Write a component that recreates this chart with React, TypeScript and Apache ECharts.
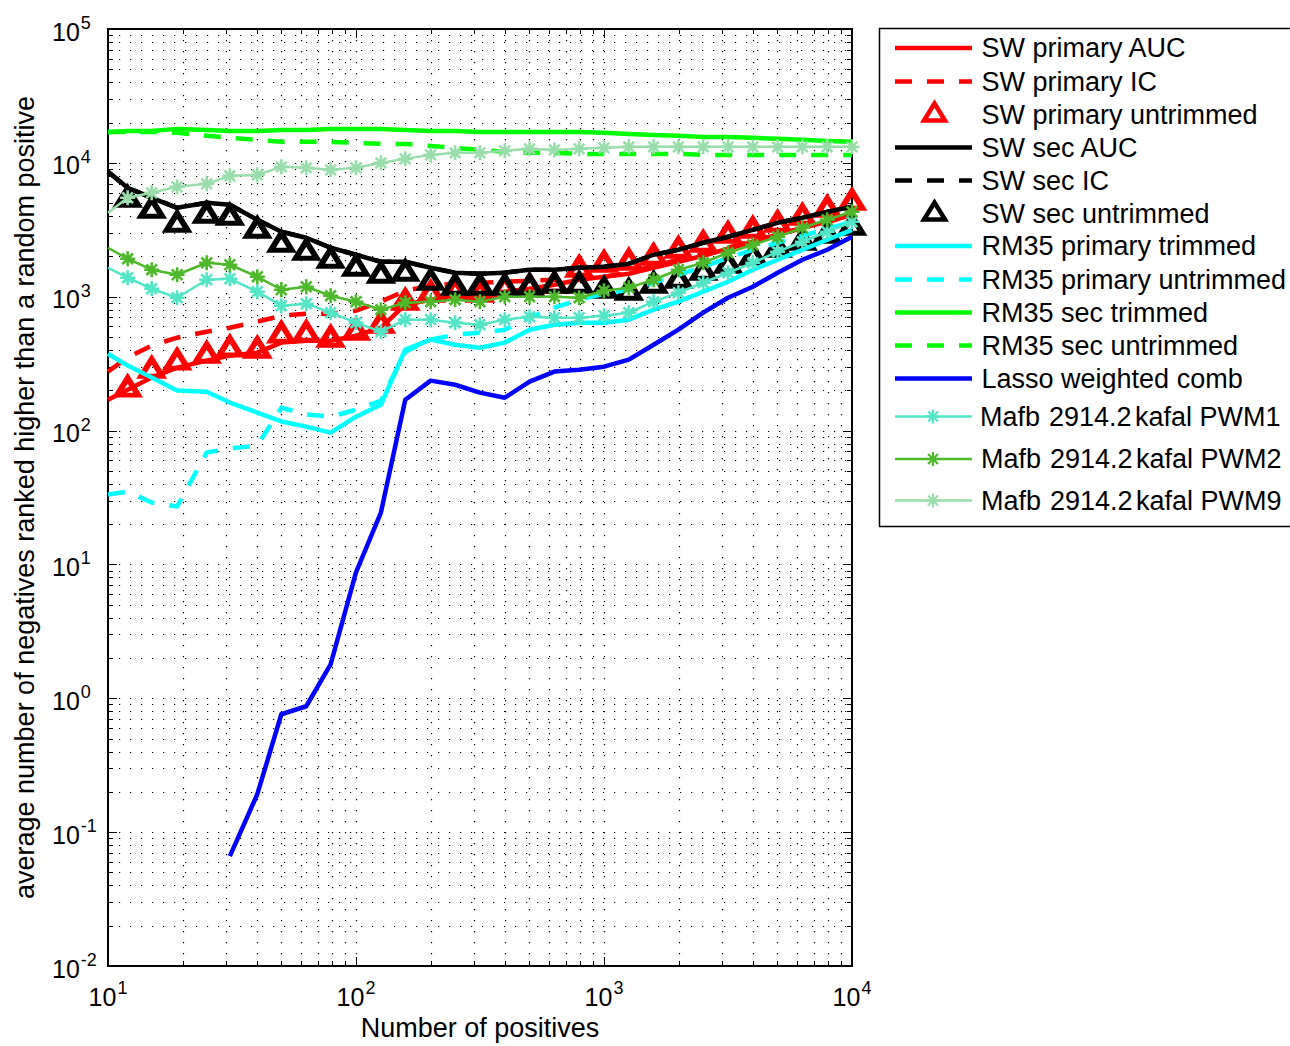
import React, { useEffect, useRef } from "react";
import * as echarts from "echarts";

const FONT = '"Liberation Sans", Arial, Helvetica, sans-serif';

// x: number of positives
const xPositives = [10, 12, 15, 19, 25, 31, 40, 50, 63, 79, 100, 126, 158, 200, 251, 316, 398, 501, 631, 794, 1000, 1259, 1585, 1995, 2512, 3162, 3981, 5012, 6310, 7943, 10000];

const swPrimaryAUC = [170, 202, 249, 295, 333, 363, 382, 454, 469, 469, 512, 587, 872, 950, 983, 1017, 1090, 1147, 1229, 1339, 1410, 1485, 1646, 1825, 2023, 2281, 2573, 2902, 3272, 3628, 4093];
const swPrimaryIC = [276, 351, 431, 494, 548, 587, 651, 721, 747, 747, 786, 918, 1109, 1208, 1250, 1272, 1294, 1316, 1339, 1362, 1410, 1511, 1704, 1889, 2094, 2321, 2618, 2902, 3272, 3628, 4022];
const swPrimaryUntrimmed = [null, 213, 295, 339, 382, 424, 416, 539, 548, 503, 567, 640, 950, 1090, 1128, 1090, 1187, 1229, 1272, 1675, 1825, 1889, 2058, 2321, 2573, 3003, 3272, 3628, 4093, 4694, 5293];
const swSecAUC = [8565, 6507, 5480, 4616, 5030, 4860, 3754, 3056, 2756, 2321, 2058, 1825, 1825, 1646, 1511, 1485, 1511, 1591, 1591, 1646, 1675, 1763, 2058, 2242, 2529, 2804, 3162, 3566, 3886, 4308, 4694];
const swSecIC = [8565, 6507, 5480, 4616, 5030, 4860, 3754, 3056, 2756, 2321, 2058, 1825, 1825, 1646, 1511, 1485, 1511, 1591, 1591, 1646, 1675, 1763, 2058, 2242, 2529, 2804, 3162, 3566, 3886, 4308, 4694];
const swSecUntrimmed = [null, 5576, 4616, 3628, 4235, 4093, 3272, 2573, 2242, 1954, 1704, 1511, 1563, 1339, 1229, 1229, 1229, 1229, 1272, 1272, 1168, 1128, 1272, 1386, 1591, 1793, 2058, 2361, 2663, 3003, 3446];
const rm35PrimaryTrimmed = [375, 306, 249, 199, 195, 162, 136, 117, 107, 96.6, 127, 156, 402, 478, 438, 416, 454, 567, 618, 640, 640, 674, 800, 918, 1090, 1294, 1591, 1889, 2242, 2663, 3162];
const rm35PrimaryUntrimmed = [33.3, 35, 29, 27.1, 68.5, 73.4, 77.3, 148, 132, 127, 143, 167, 389, 478, 520, 539, 567, 697, 828, 950, 1053, 1128, 1272, 1459, 1675, 1954, 2242, 2529, 2852, 3217, 3628];
const rm35SecTrimmed = [17030, 17330, 17330, 17940, 17630, 17330, 17330, 17630, 17630, 17940, 17940, 17940, 17630, 17330, 17330, 17030, 17030, 17030, 17030, 17030, 16750, 16460, 16180, 15910, 15630, 15630, 15370, 15110, 14850, 14590, 14350];
const rm35SecUntrimmed = [17030, 17030, 17030, 16750, 15910, 15370, 14850, 14350, 14350, 14350, 14100, 13860, 13860, 13390, 12940, 12500, 12080, 11875, 11875, 11670, 11670, 11670, 11670, 11670, 11470, 11470, 11470, 11470, 11470, 11470, 11470];
const lassoWeightedComb = [null, null, null, null, null, 0.0662, 0.192, 0.76, 0.872, 1.79, 8.72, 24.4, 170, 236, 220, 192, 176, 232, 276, 285, 300, 339, 438, 567, 760, 983, 1187, 1511, 1889, 2242, 2804];
const mafbPWM1 = [1646, 1386, 1147, 983, 1339, 1362, 1090, 857, 887, 760, 640, 548, 674, 674, 640, 618, 674, 709, 697, 697, 721, 760, 918, 1071, 1272, 1511, 1793, 2167, 2573, 3056, 3628];
const mafbPWM2 = [2321, 1921, 1591, 1459, 1793, 1733, 1410, 1128, 1187, 1017, 918, 800, 902, 918, 950, 918, 1000, 1000, 1000, 983, 1109, 1168, 1339, 1591, 1793, 2130, 2444, 2804, 3272, 3754, 4308];
const mafbPWM9 = [4235, 5480, 5973, 6620, 6970, 8000, 8137, 9336, 9177, 8867, 9177, 10000, 10710, 11470, 11875, 11875, 12290, 12720, 12500, 12720, 12940, 13165, 13165, 13165, 13165, 13165, 13165, 13165, 13165, 13165, 13165];

const xTicks = [10, 100, 1000, 10000];
const yTicks = [0.01, 0.1, 1, 10, 100, 1000, 10000, 100000];

type Spec = {
  name: string;
  ys: (number | null)[];
  color: string;
  width: number;
  dash?: number[];
  marker?: "triangle" | "asterisk";
  lineless?: boolean;
  textParts?: [string, number][];
};

const SPECS: Spec[] = [
  { name: "SW primary AUC", ys: swPrimaryAUC, color: "#FF0000", width: 4.5 },
  { name: "SW primary IC", ys: swPrimaryIC, color: "#FF0000", width: 4.5, dash: [17, 15] },
  { name: "SW primary untrimmed", ys: swPrimaryUntrimmed, color: "#FF0000", width: 0, marker: "triangle", lineless: true },
  { name: "SW sec AUC", ys: swSecAUC, color: "#000000", width: 4.5 },
  { name: "SW sec IC", ys: swSecIC, color: "#000000", width: 4.5, dash: [17, 15] },
  { name: "SW sec untrimmed", ys: swSecUntrimmed, color: "#000000", width: 0, marker: "triangle", lineless: true },
  { name: "RM35 primary trimmed", ys: rm35PrimaryTrimmed, color: "#00FFFF", width: 4.5 },
  { name: "RM35 primary untrimmed", ys: rm35PrimaryUntrimmed, color: "#00FFFF", width: 4.5, dash: [17, 15] },
  { name: "RM35 sec trimmed", ys: rm35SecTrimmed, color: "#00FF00", width: 4.5 },
  { name: "RM35 sec untrimmed", ys: rm35SecUntrimmed, color: "#00FF00", width: 4.5, dash: [17, 15] },
  { name: "Lasso weighted comb", ys: lassoWeightedComb, color: "#0000FF", width: 4.5 },
  { name: "Mafb 2914.2 kafal PWM1", ys: mafbPWM1, color: "#52E5C6", width: 2.5, marker: "asterisk", textParts: [["Mafb", 980], ["2914.2", 1049], ["kafal PWM1", 1135]] },
  { name: "Mafb 2914.2 kafal PWM2", ys: mafbPWM2, color: "#4DB82A", width: 2.5, marker: "asterisk", textParts: [["Mafb", 981], ["2914.2", 1050], ["kafal PWM2", 1136]] },
  { name: "Mafb 2914.2 kafal PWM9", ys: mafbPWM9, color: "#99DEAA", width: 2.5, marker: "asterisk", textParts: [["Mafb", 981], ["2914.2", 1050], ["kafal PWM9", 1136]] },
];

const LEGEND_ROWS = [48, 81.5, 114.5, 147.5, 180.5, 213.5, 246, 279.5, 312.5, 345.5, 378.5, 416.5, 459, 500.5];

const ASTERISK = "path://M7.5 0L7.5 15M0 7.5L15 7.5M2.2 2.2L12.8 12.8M2.2 12.8L12.8 2.2";

const supLabel = (v: number) => {
  const e = Math.round(Math.log10(v));
  return `{b|10}{s|${e}}`;
};

const labelRich = {
  b: { fontSize: 25, lineHeight: 30, verticalAlign: "bottom", color: "#000", fontFamily: FONT },
  s: { fontSize: 18, lineHeight: 18, verticalAlign: "top", color: "#000", fontFamily: FONT, padding: [0, 0, 0, 1] },
};

function buildGridData() {
  const rows: number[][] = [];
  for (let e = 1; e < 4; e++) {
    for (let m = 1; m <= 9; m++) {
      const v = m * Math.pow(10, e);
      if (v > 10 && v < 10000) rows.push([v, 1, 0, m === 1 ? 1 : 0]);
    }
  }
  for (let e = -2; e < 5; e++) {
    for (let m = 1; m <= 9; m++) {
      const v = +(m * Math.pow(10, e)).toPrecision(6);
      if (v > 0.01 && v < 100000) rows.push([100, v, 1, m === 1 ? 1 : 0]);
    }
  }
  return rows;
}

function buildLegendGraphic() {
  const els: any[] = [];
  els.push({
    type: "rect",
    shape: { x: 879.5, y: 28.5, width: 440, height: 498 },
    style: { fill: "#fff", stroke: "#000", lineWidth: 1.5 },
    z: 100,
    silent: true,
  });
  SPECS.forEach((s, i) => {
    const y = LEGEND_ROWS[i];
    if (!s.lineless) {
      els.push({
        type: "line",
        shape: { x1: 895, y1: y, x2: 972, y2: y },
        style: { stroke: s.color, lineWidth: s.width, lineDash: s.dash || null },
        z: 101,
        silent: true,
      });
    }
    if (s.marker === "triangle") {
      els.push({
        type: "polygon",
        shape: { points: [[934.5, y - 11], [924, y + 6], [945, y + 6]] },
        style: { fill: "none", stroke: s.color, lineWidth: 4.5, lineJoin: "miter" },
        z: 102,
        silent: true,
      });
    }
    if (s.marker === "asterisk") {
      const cx = 933, r = 7, d = 5;
      const segs = [
        [cx, y - r, cx, y + r],
        [cx - r, y, cx + r, y],
        [cx - d, y - d, cx + d, y + d],
        [cx - d, y + d, cx + d, y - d],
      ];
      segs.forEach((g) => {
        els.push({
          type: "line",
          shape: { x1: g[0], y1: g[1], x2: g[2], y2: g[3] },
          style: { stroke: s.color, lineWidth: 2.2 },
          z: 102,
          silent: true,
        });
      });
    }
    const parts = s.textParts || [[s.name, 981.5]];
    parts.forEach(([t, x]) => {
      els.push({
        type: "text",
        x,
        y,
        style: { text: t, fill: "#000", font: `27px ${FONT}`, align: "left", verticalAlign: "middle" },
        z: 103,
        silent: true,
      });
    });
  });
  return els;
}

export default function App() {
  const ref = useRef<HTMLDivElement>(null);
  useEffect(() => {
    if (!ref.current) return;
    const chart = echarts.init(ref.current, null, { renderer: "svg" });

    const lineSeries = SPECS.map((s, i) => {
      const data: any[] = [];
      xPositives.forEach((x, k) => {
        const v = s.ys[k];
        if (v == null) return;
        if (s.marker === "asterisk" && k === 0) data.push({ value: [x, v], symbol: "none" });
        else data.push([x, v]);
      });
      return {
        type: "line",
        name: s.name,
        data,
        z: 3 + i,
        symbol: s.marker === "triangle" ? "triangle" : s.marker === "asterisk" ? ASTERISK : "none",
        symbolSize: s.marker === "triangle" ? [21, 17] : 15,
        showSymbol: !!s.marker,
        lineStyle: s.lineless
          ? { width: 0, opacity: 0 }
          : { color: s.color, width: s.width, type: s.dash ? s.dash : "solid", cap: "butt", join: "round" },
        itemStyle:
          s.marker === "triangle"
            ? { color: "rgba(255,255,255,0)", borderColor: s.color, borderWidth: 5.5, borderJoin: "miter" }
            : { color: s.color, borderColor: s.color, borderWidth: 2.6 },
        clip: true,
        silent: true,
        emphasis: { disabled: true },
      };
    });

    const gridSeries = {
      type: "custom",
      name: "grid",
      z: 1,
      silent: true,
      clip: false,
      data: buildGridData(),
      renderItem: (params: any, api: any) => {
        const cs = params.coordSys;
        const isY = api.value(2) === 1;
        const major = api.value(3) === 1;
        const p = api.coord([api.value(0), api.value(1)]);
        const tl = major ? 9 : 5;
        const dot = { stroke: "#000", lineWidth: 1.2, lineDash: [1.2, 9.8] };
        const tick = { stroke: "#000", lineWidth: 1 };
        const ch: any[] = [];
        if (!isY) {
          const x = Math.round(p[0]) + 0.5;
          ch.push({ type: "line", shape: { x1: x, y1: cs.y, x2: x, y2: cs.y + cs.height }, style: dot });
          ch.push({ type: "line", shape: { x1: x, y1: cs.y + cs.height, x2: x, y2: cs.y + cs.height - tl }, style: tick });
          ch.push({ type: "line", shape: { x1: x, y1: cs.y, x2: x, y2: cs.y + tl }, style: tick });
        } else {
          const y = Math.round(p[1]) + 0.5;
          ch.push({ type: "line", shape: { x1: cs.x, y1: y, x2: cs.x + cs.width, y2: y }, style: dot });
          ch.push({ type: "line", shape: { x1: cs.x, y1: y, x2: cs.x + tl, y2: y }, style: tick });
          ch.push({ type: "line", shape: { x1: cs.x + cs.width, y1: y, x2: cs.x + cs.width - tl, y2: y }, style: tick });
        }
        return { type: "group", children: ch };
      },
    };

    chart.setOption({
      animation: false,
      backgroundColor: "#fff",
      textStyle: { fontFamily: FONT, color: "#000" },
      grid: { left: 108, top: 29, width: 744, height: 938, show: true, borderColor: "#000", borderWidth: 2, backgroundColor: "transparent" },
      xAxis: {
        type: "log",
        logBase: 10,
        min: xTicks[0],
        max: xTicks[xTicks.length - 1],
        interval: 1,
        axisLine: { show: false },
        axisTick: { show: false },
        splitLine: { show: false },
        axisLabel: { margin: 13, formatter: supLabel, rich: labelRich, showMinLabel: true, showMaxLabel: true, hideOverlap: false },
        name: "Number of positives",
        nameLocation: "middle",
        nameGap: 48,
        nameTextStyle: { fontSize: 27, color: "#000", fontFamily: FONT },
      },
      yAxis: {
        type: "log",
        logBase: 10,
        min: yTicks[0],
        max: yTicks[yTicks.length - 1],
        interval: 1,
        axisLine: { show: false },
        axisTick: { show: false },
        splitLine: { show: false },
        axisLabel: { margin: 56, align: "left", formatter: supLabel, rich: labelRich, showMinLabel: true, showMaxLabel: true, hideOverlap: false },
        name: "average number of negatives ranked higher than a random positive",
        nameLocation: "middle",
        nameRotate: 90,
        nameGap: 70,
        nameTextStyle: { fontSize: 27, color: "#000", fontFamily: FONT },
      },
      series: [gridSeries, ...lineSeries],
      graphic: buildLegendGraphic(),
    });

    return () => chart.dispose();
  }, []);

  return (
    <div
      ref={ref}
      style={{ position: "fixed", left: 0, top: 0, width: 1290, height: 1046, background: "#fff" }}
    />
  );
}
